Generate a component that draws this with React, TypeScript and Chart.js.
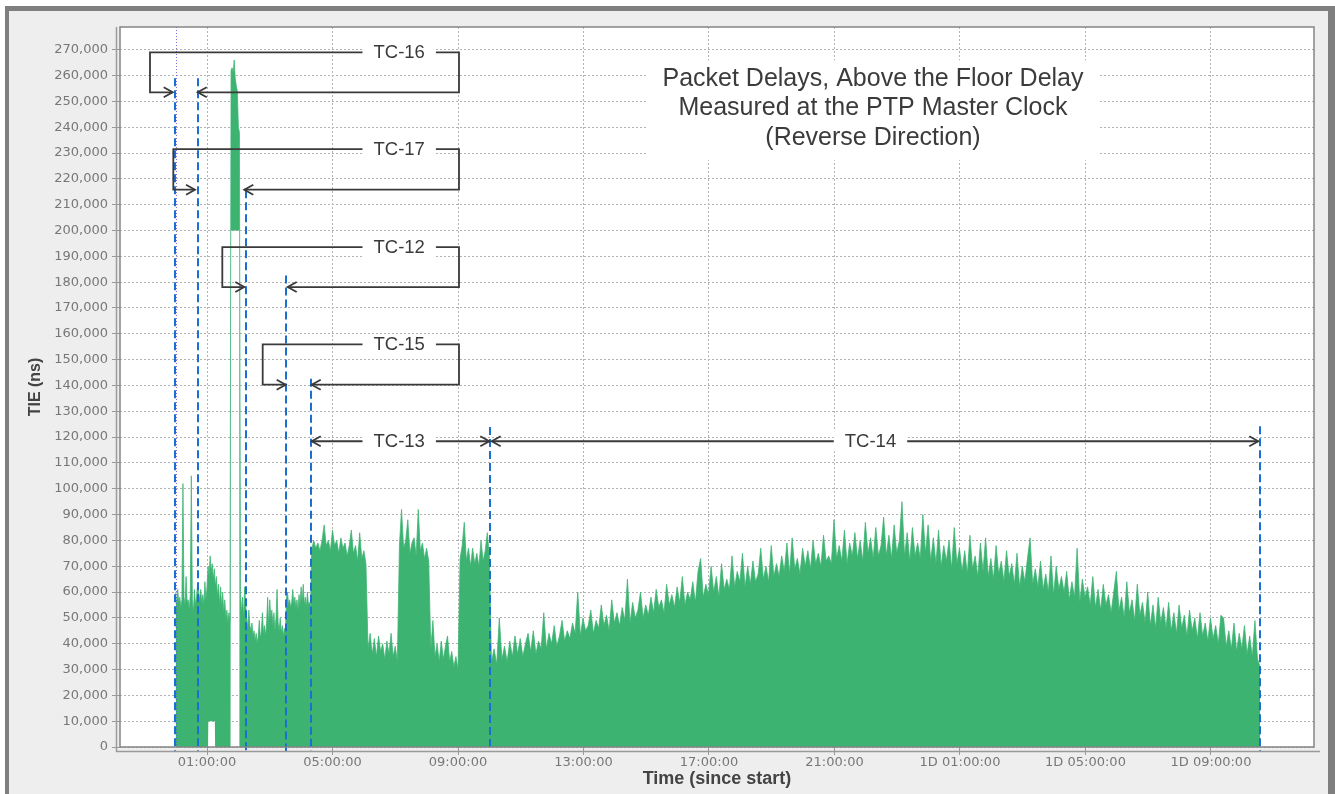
import React, { useEffect, useRef } from "react";
import { Chart, registerables } from "chart.js";

Chart.register(...registerables);

// ---------------- axis definitions ----------------
const X_TICK_HOURS = [1, 5, 9, 13, 17, 21, 25, 29, 33];
const X_TICK_LABELS = [
  "01:00:00", "05:00:00", "09:00:00", "13:00:00", "17:00:00",
  "21:00:00", "1D 01:00:00", "1D 05:00:00", "1D 09:00:00",
];
const Y_TICK_NS = [
  0, 10000, 20000, 30000, 40000, 50000, 60000, 70000, 80000, 90000,
  100000, 110000, 120000, 130000, 140000, 150000, 160000, 170000, 180000, 190000,
  200000, 210000, 220000, 230000, 240000, 250000, 260000, 270000,
];
const X_MIN_H = -1.773;
const X_MAX_H = 36.283;
const Y_MAX_NS = 278800;

// ---------------- data (max packet delay, thousands of ns) ----------------
// TC-16: every 2 min from 0 min
const TC16_MAX_KNS = [60, 55, 61, 56, 58, 54, 57, 102, 58, 55, 66, 56, 57, 53, 59, 105, 57, 52, 61, 55, 58, 63];
// TC-17: every 2 min from 44 min
const TC17_MAX_KNS = [
  60, 57, 61, 56, 59, 55, 64, 57, 62, 70,
  66, 74, 68, 71, 65, 69, 62, 66, 58, 63,
  55, 62, 54, 60, 52, 57, 50, 53, 48, 52,
  49, 262, 263, 261, 266, 259, 256, 254, 240, 238,
  60, 52, 58, 50, 62, 55,
];
// TC-12: every 2 min from 136 min
const TC12_MAX_KNS = [
  50, 46, 53, 47, 45, 48, 43, 45, 41, 44,
  40, 43, 49, 42, 45, 52, 44, 47, 43, 48,
  58, 46, 57, 50, 53, 47, 52, 45, 50, 61,
  48, 45, 50, 44, 47, 43, 46, 44,
];
// TC-15: every 2 min from 212 min
const TC15_MAX_KNS = [
  58, 60, 55, 57, 54, 56, 61, 55, 58, 54,
  57, 53, 59, 55, 62, 56, 63, 55, 58, 54,
  60, 55, 56, 54,
];
// TC-13: every 4 min from 260 min
const TC13_MAX_KNS = [
  76, 80, 77, 79, 76, 80, 86, 78, 80, 76, 84, 78, 80, 75, 81, 77, 79, 74, 78, 84, 75, 78, 72, 83, 73, 76, 71,
  38, 44, 36, 42, 35, 43, 37, 40, 34, 41, 36, 44, 35, 39, 33,
  78, 92, 77, 80, 88, 75, 79, 81, 74, 92, 76, 79, 73, 77, 72,
  38, 49, 35, 40, 33, 41, 34, 39, 43, 33, 37, 31, 35, 30,
  73, 78, 87, 72, 77, 70, 77, 71, 75, 70, 80, 72, 76, 83, 74,
];
// TC-14: every 5 min from 604 min
const TC14_MAX_KNS = [
  33, 38, 32, 50, 34, 39, 33, 41, 35, 43,
  36, 42, 35, 40, 44, 37, 45, 36, 41, 38,
  52, 38, 44, 40, 47, 39, 43, 49, 41, 45,
  42, 48, 44, 60, 43, 50, 45, 47, 53, 44,
  49, 46, 55, 47, 51, 45, 57, 48, 52, 47,
  54, 49, 65, 48, 56, 50, 53, 60, 50, 55,
  51, 58, 52, 61, 54, 57, 52, 63, 55, 59,
  54, 62, 56, 66, 55, 60, 57, 64, 56, 68,
  73, 58, 63, 59, 70, 60, 66, 58, 71, 61,
  65, 61, 74, 62, 68, 64, 75, 62, 70, 63,
  72, 64, 67, 77, 65, 70, 64, 78, 66, 71,
  66, 74, 68, 79, 67, 81, 69, 73, 67, 77,
  70, 76, 69, 80, 71, 75, 70, 82, 72, 74,
  71, 88, 73, 78, 72, 84, 71, 79, 74, 83,
  73, 80, 72, 87, 75, 81, 73, 85, 74, 78,
  89, 74, 82, 73, 86, 75, 80, 95, 74, 83,
  72, 85, 74, 79, 73, 90, 75, 86, 72, 81,
  71, 84, 70, 78, 72, 80, 69, 85, 71, 77,
  68, 76, 67, 82, 69, 74, 66, 79, 68, 81,
  66, 73, 65, 78, 67, 72, 64, 76, 66, 71,
  63, 75, 62, 70, 64, 73, 81, 63, 69, 62,
  72, 61, 67, 60, 74, 59, 70, 61, 66, 60,
  68, 57, 64, 58, 77, 56, 65, 58, 62, 55,
  66, 54, 61, 53, 63, 55, 59, 52, 60, 68,
  53, 58, 50, 64, 52, 57, 49, 63, 51, 56,
  48, 60, 47, 55, 46, 58, 48, 54, 46, 56,
  45, 52, 44, 55, 46, 51, 43, 53, 45, 50,
  42, 52, 43, 48, 41, 50, 42, 47, 40, 51,
  50, 39, 45, 38, 48, 37, 44, 38, 47, 36,
  43, 35, 49, 34, 31,
];
// lower edge of the band: [minute, thousands of ns]
const MIN_FLOOR_STEPS = [
  [0, 0], [62, 0], [62.5, 10], [75, 10], [75.5, 0],
  [105, 0], [106, 200], [122, 200], [123, 0], [2074, 0],
];

const SEGMENTS = [
  { startMin: 0, stepMin: 2, values: TC16_MAX_KNS },
  { startMin: 44, stepMin: 2, values: TC17_MAX_KNS },
  { startMin: 136, stepMin: 2, values: TC12_MAX_KNS },
  { startMin: 212, stepMin: 2, values: TC15_MAX_KNS },
  { startMin: 260, stepMin: 4, values: TC13_MAX_KNS },
  { startMin: 604, stepMin: 5, values: TC14_MAX_KNS },
];

// ---------------- annotations (data units) ----------------
const BOUNDARY_HOURS = [-0.03, 0.71, 2.234, 3.518, 4.315, 10.02, 34.562];
const BOUNDARY_TOP_NS = [259000, 259000, 215600, 182600, 142600, 123900, 124200];
const START_MARKER_H = 0;

const BRACKET_LABELS = ["TC-16", "TC-17", "TC-12", "TC-15"];
const BRACKET_LEFT_H = [-0.817, -0.074, 1.488, 2.775];
const BRACKET_RIGHT_H = 9.032;
const BRACKET_TOP_NS = [269000, 231500, 193600, 155900];
const BRACKET_BOTTOM_NS = [253500, 215800, 178100, 140300];
const BRACKET_TIP_RIGHTWARD_H = [-0.093, 0.618, 2.189, 3.508];
const BRACKET_TIP_LEFTWARD_H = [0.704, 2.189, 3.572, 4.337];
const BRACKET_LABEL_H = 7.126;

const SPAN_LABELS = ["TC-13", "TC-14"];
const SPAN_FROM_H = [4.337, 10.074];
const SPAN_TO_H = [9.998, 34.508];
const SPAN_LABEL_H = [7.126, 22.147];
const SPAN_LEVEL_NS = 118400;

const TITLE_LINES = [
  "Packet Delays, Above the Floor Delay",
  "Measured at the PTP Master Clock",
  "(Reverse Direction)",
];
const TITLE_CENTER_H = 22.227;
const TITLE_BASELINE_NS = [255900, 244600, 233000];
const TITLE_BOX_H = [15.025, 29.459];
const TITLE_BOX_NS = [265900, 227200];

// ---------------- styles ----------------
const GREEN = "#3cb371";
const INK = "#3a3a3a";
const BLUE = "#1a6fd0";
const LABEL_FONT = '18.5px "Liberation Sans", Arial, sans-serif';
const TITLE_FONT = '25px "Liberation Sans", Arial, sans-serif';

function arrowHead(ctx: any, tipX: number, y: number, dir: number) {
  ctx.beginPath();
  ctx.moveTo(tipX - 9 * dir, y - 5);
  ctx.lineTo(tipX, y);
  ctx.lineTo(tipX - 9 * dir, y + 5);
  ctx.stroke();
}

function labelBox(ctx: any, text: string, cx: number, cy: number) {
  ctx.font = LABEL_FONT;
  const w = ctx.measureText(text).width + 22;
  ctx.fillStyle = "#ffffff";
  ctx.fillRect(cx - w / 2, cy - 10, w, 20);
  ctx.fillStyle = INK;
  ctx.textAlign = "center";
  ctx.textBaseline = "middle";
  ctx.fillText(text, cx, cy + 1);
}

const framePlugin = {
  id: "frame",
  beforeDraw(chart: any) {
    const { ctx, chartArea: a } = chart;
    ctx.save();
    ctx.fillStyle = "#ffffff";
    ctx.fillRect(a.left, a.top, a.right - a.left, a.bottom - a.top);
    ctx.restore();
  },
  afterDraw(chart: any) {
    const { ctx, chartArea: a } = chart;
    ctx.save();
    ctx.strokeStyle = "#858585";
    ctx.lineWidth = 1.5;
    ctx.strokeRect(a.left, a.top, a.right - a.left, a.bottom - a.top);
    ctx.strokeStyle = "#9a9a9a";
    ctx.lineWidth = 1.5;
    ctx.beginPath();
    ctx.moveTo(a.left - 3.5, a.top);
    ctx.lineTo(a.left - 3.5, a.bottom + 4.5);
    ctx.lineTo(a.right + 6, a.bottom + 4.5);
    ctx.stroke();
    ctx.restore();
  },
};

const overlayPlugin = {
  id: "overlay",
  afterDatasetsDraw(chart: any) {
    const { ctx, chartArea: a, scales } = chart;
    const X = (h: number) => scales.x.getPixelForValue(h);
    const Y = (v: number) => scales.y.getPixelForValue(v);
    ctx.save();

    // title block
    ctx.fillStyle = "#ffffff";
    const bx0 = X(TITLE_BOX_H[0]);
    const bx1 = X(TITLE_BOX_H[1]);
    const by0 = Y(TITLE_BOX_NS[0]);
    const by1 = Y(TITLE_BOX_NS[1]);
    ctx.fillRect(bx0, by0, bx1 - bx0, by1 - by0);
    ctx.fillStyle = "#3b3b3b";
    ctx.font = TITLE_FONT;
    ctx.textAlign = "center";
    ctx.textBaseline = "alphabetic";
    TITLE_LINES.forEach((t, i) => ctx.fillText(t, X(TITLE_CENTER_H), Y(TITLE_BASELINE_NS[i])));

    // start marker (thin dotted)
    ctx.strokeStyle = "rgba(90,90,220,0.85)";
    ctx.lineWidth = 1;
    ctx.setLineDash([1, 2]);
    const sx = Math.round(X(START_MARKER_H)) + 0.5;
    ctx.beginPath();
    ctx.moveTo(sx, a.top);
    ctx.lineTo(sx, a.bottom);
    ctx.stroke();

    // dashed test-case boundaries
    ctx.strokeStyle = BLUE;
    ctx.lineWidth = 2;
    ctx.setLineDash([8, 4]);
    BOUNDARY_HOURS.forEach((h, i) => {
      const x = Math.round(X(h));
      ctx.beginPath();
      ctx.moveTo(x, Y(BOUNDARY_TOP_NS[i]));
      ctx.lineTo(x, a.bottom + 5);
      ctx.stroke();
    });
    ctx.setLineDash([]);

    // brackets
    ctx.lineWidth = 1.8;
    ctx.lineJoin = "miter";
    BRACKET_LABELS.forEach((label, i) => {
      const xl = X(BRACKET_LEFT_H[i]);
      const xr = X(BRACKET_RIGHT_H);
      const yt = Y(BRACKET_TOP_NS[i]);
      const yb = Y(BRACKET_BOTTOM_NS[i]);
      const tipR = X(BRACKET_TIP_RIGHTWARD_H[i]);
      const tipL = X(BRACKET_TIP_LEFTWARD_H[i]);
      ctx.strokeStyle = INK;
      ctx.beginPath();
      ctx.moveTo(tipR, yb);
      ctx.lineTo(xl, yb);
      ctx.lineTo(xl, yt);
      ctx.lineTo(xr, yt);
      ctx.lineTo(xr, yb);
      ctx.lineTo(tipL, yb);
      ctx.stroke();
      arrowHead(ctx, tipR, yb, 1);
      arrowHead(ctx, tipL, yb, -1);
      labelBox(ctx, label, X(BRACKET_LABEL_H), yt);
    });

    // spans
    SPAN_LABELS.forEach((label, i) => {
      const y = Y(SPAN_LEVEL_NS);
      const x0 = X(SPAN_FROM_H[i]);
      const x1 = X(SPAN_TO_H[i]);
      ctx.strokeStyle = INK;
      ctx.beginPath();
      ctx.moveTo(x0, y);
      ctx.lineTo(x1, y);
      ctx.stroke();
      arrowHead(ctx, x0, y, -1);
      arrowHead(ctx, x1, y, 1);
      labelBox(ctx, label, X(SPAN_LABEL_H[i]), y);
    });

    ctx.restore();
  },
};

export default function App() {
  const ref = useRef<HTMLCanvasElement | null>(null);

  useEffect(() => {
    const canvas = ref.current;
    if (!canvas) return;
    const maxPoints = SEGMENTS.flatMap((s) =>
      s.values.map((v, i) => ({ x: (s.startMin + i * s.stepMin) / 60, y: v * 1000 }))
    );
    const minPoints = MIN_FLOOR_STEPS.map(([m, v]) => ({ x: m / 60, y: v * 1000 }));

    const tickFont = { family: '"DejaVu Sans", Verdana, sans-serif', size: 13 };
    const chart = new Chart(canvas, {
      type: "line",
      data: {
        datasets: [
          {
            data: maxPoints,
            borderColor: "rgba(60,179,113,0.75)",
            backgroundColor: GREEN,
            borderWidth: 1,
            pointRadius: 0,
            tension: 0,
            fill: "+1",
          },
          {
            data: minPoints,
            borderColor: "rgba(0,0,0,0)",
            borderWidth: 0,
            pointRadius: 0,
            fill: false,
          },
        ],
      },
      options: {
        animation: false,
        responsive: false,
        events: [],
        layout: { padding: { left: 0, top: 27, right: 21, bottom: 0 } },
        plugins: { legend: { display: false }, tooltip: { enabled: false } },
        scales: {
          x: {
            type: "linear",
            min: X_MIN_H,
            max: X_MAX_H,
            afterBuildTicks: (s: any) => {
              s.ticks = X_TICK_HOURS.map((v) => ({ value: v }));
            },
            afterFit: (s: any) => {
              s.height = 47;
            },
            ticks: {
              autoSkip: false,
              maxRotation: 0,
              padding: 0,
              color: "#777777",
              font: tickFont,
              callback: (v: any) => X_TICK_LABELS[X_TICK_HOURS.indexOf(Number(v))] ?? "",
            },
            grid: { color: "#b2b2b2", lineWidth: 1, tickLength: 8, tickColor: "#999999", tickBorderDash: [] },
            border: { display: false, dash: [2, 2] },
            title: {
              display: true,
              text: "Time (since start)",
              color: "#444444",
              font: { family: '"Liberation Sans", Arial, sans-serif', size: 18, weight: "bold" },
              padding: { top: 0, bottom: 4 },
            },
          },
          y: {
            type: "linear",
            min: 0,
            max: Y_MAX_NS,
            afterBuildTicks: (s: any) => {
              s.ticks = Y_TICK_NS.map((v) => ({ value: v }));
            },
            afterFit: (s: any) => {
              s.width = 120;
            },
            ticks: {
              autoSkip: false,
              padding: 4,
              color: "#777777",
              font: tickFont,
              callback: (v: any) => Number(v).toLocaleString("en-US"),
            },
            grid: { color: "#b2b2b2", lineWidth: 1, tickLength: 8, tickColor: "#999999", tickBorderDash: [] },
            border: { display: false, dash: [2, 2] },
            title: {
              display: true,
              text: "TIE (ns)",
              color: "#444444",
              font: { family: '"Liberation Sans", Arial, sans-serif', size: 16, weight: "bold" },
              padding: { top: 26, bottom: 0 },
            },
          },
        },
      },
      plugins: [framePlugin, overlayPlugin],
    } as any);
    return () => chart.destroy();
  }, []);

  return (
    <div
      style={{
        position: "fixed",
        left: 0,
        top: 0,
        width: 1335,
        height: 794,
        background: "#ffffff",
        overflow: "hidden",
      }}
    >
      <div
        style={{
          position: "absolute",
          left: 5,
          top: 6,
          right: 0,
          bottom: -10,
          borderTop: "5px solid #7f7f7f",
          borderLeft: "4px solid #7f7f7f",
          borderRight: "7px solid #7f7f7f",
          background: "#eeeeee",
        }}
      />
      <canvas
        ref={ref}
        width={1335}
        height={794}
        style={{ position: "absolute", left: 0, top: 0, width: 1335, height: 794 }}
      />
    </div>
  );
}
